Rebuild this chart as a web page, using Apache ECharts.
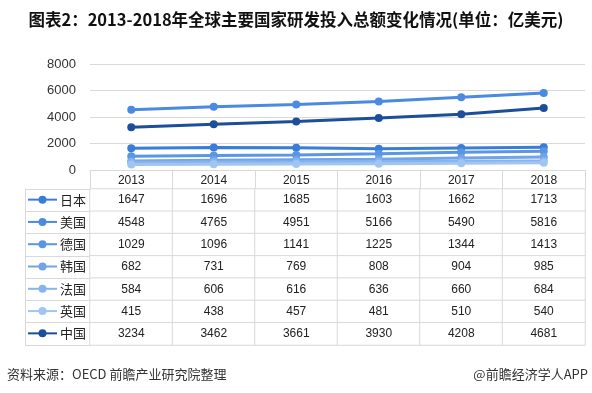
<!DOCTYPE html>
<html><head><meta charset="utf-8">
<script src="https://cdn.jsdelivr.net/npm/echarts@6/dist/echarts.min.js"></script>
<style>html,body{margin:0;padding:0;background:#fff}#c{width:592px;height:393px}</style>
</head><body><div id="c"></div>
<script>
const years = ['2013','2014','2015','2016','2017','2018'];
const countries = ['日本','美国','德国','韩国','法国','英国','中国'];
const japan = [1647,1696,1685,1603,1662,1713];
const usa = [4548,4765,4951,5166,5490,5816];
const germany = [1029,1096,1141,1225,1344,1413];
const korea = [682,731,769,808,904,985];
const france = [584,606,616,636,660,684];
const uk = [415,438,457,481,510,540];
const china = [3234,3462,3661,3930,4208,4681];
const yTicks = {min:0, max:8000, interval:2000};

const seriesValues = [japan, usa, germany, korea, france, uk, china];
const colors = ['#3A7DD9','#4A8AE0','#5B96E4','#70A3E8','#87B4EC','#A0C5F2','#1C4E9A'];
const FONT = "'Liberation Sans','Noto Sans CJK SC',sans-serif";
const CJK = "'Noto Sans CJK SC',sans-serif";
const grey = '#d9d9d9';

const lineSeries = countries.map((c,i)=>({
  name:c, type:'line', xAxisIndex:0, yAxisIndex:0,
  data:seriesValues[i], symbol:'circle', symbolSize:8,
  lineStyle:{width:3,color:colors[i]}, itemStyle:{color:colors[i]},
  z: i===6 ? 5 : 3
}));

const cells = [];
countries.forEach((c,ci)=>{ years.forEach((y,yi)=>{ cells.push([yi, ci, seriesValues[ci][yi]]); }); });

const tableTop = 189, rowH = 156/7, legH = 10;
const legends = countries.map((c,i)=>({
  orient:'vertical', left:27, padding:0, top: tableTop + i*rowH + rowH/2 - 7,
  itemWidth:29, itemHeight:legH, itemGap:3, data:[c], selectedMode:false,
  textStyle:{fontFamily:CJK, fontSize:13, color:'#222', padding:[0,0,0,-2]}
}));

const option = {
  animation:false,
  textStyle:{fontFamily:FONT},
  title:{text:'图表2：2013-2018年全球主要国家研发投入总额变化情况(单位：亿美元)', left:'center', top:6,
    textStyle:{fontFamily:CJK, fontSize:16.5, fontWeight:'bold', color:'#111'}},
  legend:legends,
  grid:[
    {left:90, right:7, top:64, height:106},
    {left:90, right:7, top:tableTop, height:156}
  ],
  xAxis:[
    {type:'category', gridIndex:0, data:years, boundaryGap:true,
     axisLine:{show:true, lineStyle:{color:grey}},
     axisTick:{show:true, length:19, interval:0, lineStyle:{color:grey}},
     axisLabel:{margin:5, fontSize:12, color:'#222', fontFamily:FONT}},
    {type:'category', gridIndex:1, data:years, axisLine:{show:false}, axisTick:{show:false}, axisLabel:{show:false}}
  ],
  yAxis:[
    {type:'value', gridIndex:0, min:yTicks.min, max:yTicks.max, interval:yTicks.interval,
     axisLine:{show:false}, axisTick:{show:false},
     axisLabel:{margin:14, fontSize:13, color:'#333', fontFamily:FONT, formatter:v=>String(v)},
     splitLine:{lineStyle:{color:grey}}},
    {type:'category', gridIndex:1, data:countries, inverse:true,
     axisLine:{show:true, lineStyle:{color:grey}},
     axisTick:{show:true, length:65, interval:0, lineStyle:{color:grey}},
     axisLabel:{show:false}},
    {type:'category', gridIndex:1, data:countries, inverse:true, position:'left', offset:65,
     axisLine:{show:true, lineStyle:{color:grey}}, axisTick:{show:false}, axisLabel:{show:false}}
  ],
  series: lineSeries.concat([{
    type:'heatmap', xAxisIndex:1, yAxisIndex:1, data:cells,
    itemStyle:{color:'#ffffff', borderColor:grey, borderWidth:1},
    label:{show:true, formatter:p=>p.value[2], fontSize:12, color:'#222', fontFamily:FONT},
    emphasis:{disabled:true}
  }]),
  graphic:[
    {type:'text', left:7, top:368, style:{text:'资料来源：OECD 前瞻产业研究院整理', fontFamily:CJK, fontSize:13, fill:'#333'}},
    {type:'text', right:4, top:368, style:{text:'@前瞻经济学人APP', fontFamily:CJK, fontSize:13, fill:'#333'}}
  ]
};
echarts.init(document.getElementById('c')).setOption(option);
</script></body></html>
